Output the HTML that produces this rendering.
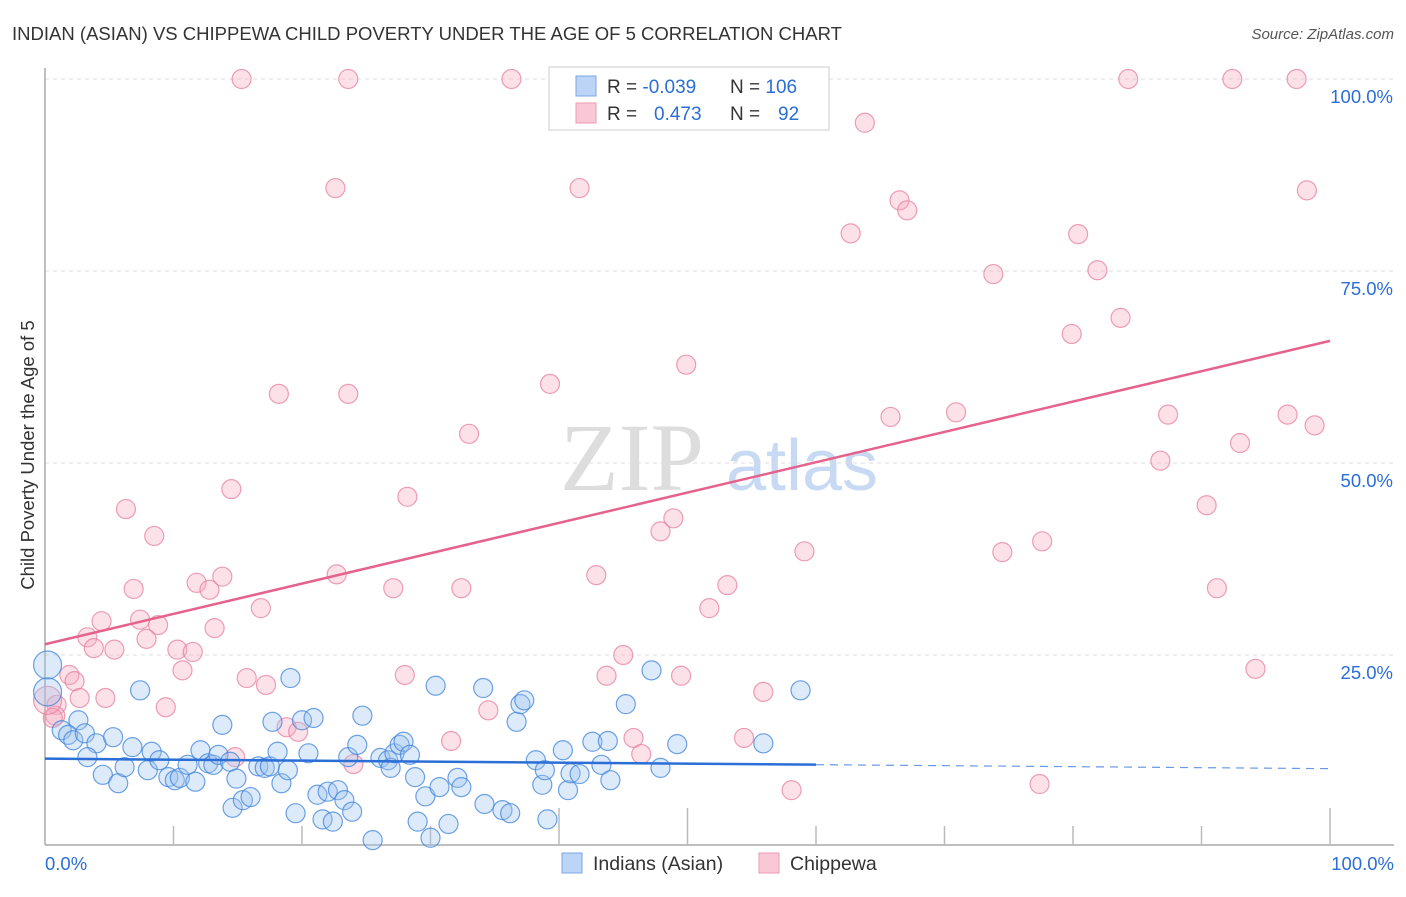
<!DOCTYPE html>
<html><head><meta charset="utf-8"><style>
html,body{margin:0;padding:0;background:#fff;}
body{width:1406px;height:892px;overflow:hidden;font-family:"Liberation Sans",sans-serif;}
</style></head><body>
<svg id="chart" width="1406" height="892" xmlns="http://www.w3.org/2000/svg">
<text x="12" y="40" font-size="18" fill="#333" textLength="830" lengthAdjust="spacingAndGlyphs">INDIAN (ASIAN) VS CHIPPEWA CHILD POVERTY UNDER THE AGE OF 5 CORRELATION CHART</text>
<text x="1394" y="39" font-size="15" fill="#555" font-style="italic" text-anchor="end">Source: ZipAtlas.com</text>
<g>
<text x="632" y="490" font-size="96" fill="#ddd" font-family="Liberation Serif,serif" text-anchor="middle">ZIP</text>
<text x="802" y="490" font-size="72" fill="#c8daf3" text-anchor="middle">atlas</text>
</g>
<g id="grid"></g>
<g id="axes"></g>
<g id="points"></g>
<g id="lines"></g>
<text transform="translate(34,455) rotate(-90)" font-size="18.5" fill="#333" text-anchor="middle">Child Poverty Under the Age of 5</text>
<g>
<rect x="549" y="67" width="280" height="63" fill="#fff" stroke="#ccc"/>
<rect x="576" y="76" width="20" height="20" fill="#bcd4f5" stroke="#7aa7e6"/>
<rect x="576" y="103" width="20" height="20" fill="#f9c8d6" stroke="#ec9ab2"/>
<text x="607" y="93" font-size="19" fill="#333">R = <tspan fill="#2a6ed6">-0.039</tspan><tspan x="730">N = </tspan><tspan fill="#2a6ed6">106</tspan></text>
<text x="607" y="120" font-size="19" fill="#333">R = <tspan x="654" fill="#2a6ed6">0.473</tspan><tspan x="730">N = </tspan><tspan x="778" fill="#2a6ed6">92</tspan></text>
</g>
<g>
<rect x="562" y="853" width="20" height="20" fill="#bcd4f5" stroke="#7aa7e6"/>
<text x="593" y="870" font-size="19.5" fill="#333">Indians (Asian)</text>
<rect x="759" y="853" width="20" height="20" fill="#f9c8d6" stroke="#ec9ab2"/>
<text x="790" y="870" font-size="19.5" fill="#333">Chippewa</text>
</g>
</svg>
<script>
const yTicks=[25,50,75,100];
const yTickLabels=["25.0%","50.0%","75.0%","100.0%"];
const xTickLabels=["0.0%","100.0%"];
const blueX=[0.2,0.2,2.6,1.3,1.8,2.2,3.1,4.0,5.3,3.3,4.5,5.7,6.2,6.8,7.4,8.0,8.3,8.9,9.6,10.1,10.5,11.1,11.7,12.1,12.7,13.1,13.5,13.8,14.4,14.9,14.6,15.4,16.0,16.6,17.1,17.5,17.7,18.1,18.4,18.9,19.1,19.5,20.0,20.5,20.9,21.2,21.6,22.0,22.4,22.8,23.3,23.6,23.9,24.3,24.7,25.5,26.1,26.7,26.9,27.2,27.6,27.9,28.4,28.8,29.0,29.6,30.0,30.4,30.7,31.4,32.1,32.4,34.1,34.2,35.6,36.2,36.7,37.0,37.3,38.2,38.7,38.9,39.1,40.3,40.7,40.9,41.6,42.6,43.3,43.8,44.0,45.2,47.2,47.9,49.2,55.9,58.8];
const blueY=[23.7,20.2,16.5,15.2,14.6,13.9,14.8,13.5,14.3,11.7,9.4,8.3,10.4,13.0,20.4,10.0,12.4,11.3,9.1,8.7,9.0,10.7,8.5,12.6,10.9,10.7,12.0,15.9,11.1,8.9,5.1,6.1,6.5,10.5,10.3,10.5,16.3,12.4,8.3,10.0,22.0,4.4,16.5,12.2,16.8,6.8,3.6,7.2,3.3,7.4,6.1,11.7,4.6,13.3,17.1,0.9,11.6,11.3,10.3,12.2,13.3,13.7,12.0,9.1,3.3,6.6,1.2,21.0,7.8,3.0,9.0,7.8,20.7,5.6,4.8,4.4,16.3,18.6,19.1,11.3,8.1,10.0,3.6,12.6,7.4,9.6,9.5,13.7,10.7,13.8,8.7,18.6,23.0,10.3,13.4,13.5,20.4];
const pinkX=[15.3,23.6,36.3,84.3,92.4,97.4,63.8,22.6,41.6,98.2,66.5,67.1,62.7,80.4,73.8,81.9,83.7,79.9,49.9,18.2,23.6,39.3,65.8,70.9,87.4,96.7,98.8,33.0,93.0,86.8,14.5,28.2,6.3,90.4,8.5,48.9,47.9,59.1,77.6,74.5,22.7,42.9,6.9,11.8,12.8,13.8,27.1,32.4,53.1,91.2,16.8,51.7,4.4,7.4,8.8,13.2,3.3,7.9,3.8,5.4,10.3,11.5,45.0,94.2,10.7,1.9,2.3,15.7,17.2,28.0,43.7,49.5,2.7,4.7,9.4,34.5,55.9,0.9,0.8,0.6,18.8,19.7,31.6,45.8,54.4,46.4,14.8,24.0,58.1,77.4,0.2];
const pinkY=[100,100,100,100,100,100,94.3,85.8,85.8,85.5,84.2,82.9,79.9,79.8,74.6,75.1,68.9,66.8,62.8,59.0,59.0,60.3,56.0,56.6,56.3,56.3,54.9,53.8,52.6,50.3,46.6,45.6,44.0,44.5,40.5,42.8,41.1,38.5,39.8,38.4,35.5,35.4,33.6,34.4,33.5,35.2,33.7,33.7,34.1,33.7,31.1,31.1,29.4,29.6,28.9,28.5,27.3,27.1,25.9,25.7,25.7,25.4,25.0,23.2,23.0,22.4,21.6,22.0,21.1,22.4,22.3,22.3,19.4,19.4,18.2,17.8,20.2,18.5,17.1,16.8,15.6,15.0,13.8,14.2,14.2,12.1,11.7,10.8,7.4,8.2,19.1];
const blueTrend=[11.5,10.2];
const pinkTrend=[26.4,65.9];
const blueSolidEnd=60;

const NS="http://www.w3.org/2000/svg";
const X0=45,X1=1330,Y0=847,Y100=79;
function sx(v){return X0+(X1-X0)*v/100;}
function sy(v){return Y0-(Y0-Y100)*v/100;}
function mk(tag,attrs,parent){const e=document.createElementNS(NS,tag);for(const k in attrs)e.setAttribute(k,attrs[k]);parent.appendChild(e);return e;}
const grid=document.getElementById('grid'),axes=document.getElementById('axes'),pts=document.getElementById('points'),lines=document.getElementById('lines');
yTicks.forEach((t,i)=>{
  const g=mk('line',{x1:45,x2:1394,y1:sy(t),y2:sy(t),stroke:'#ddd','stroke-dasharray':'4,4'},grid);
  
  
  const l=mk('text',{x:1393,y:sy(t)+24,'font-size':18.5,fill:'#2a6ed6','text-anchor':'end'},axes);
  l.textContent=yTickLabels[i];
  
  
});
const ya=mk('line',{x1:45,x2:45,y1:68,y2:845,stroke:'#aaa','stroke-width':1.5},axes);


const xa=mk('line',{x1:45,x2:1394,y1:845,y2:845,stroke:'#aaa','stroke-width':1.5},axes);


for(let i=1;i<=10;i++){
  const tk=mk('line',{x1:sx(i*10),x2:sx(i*10),y1:(i%5==0||i==4)?808:826,y2:845,stroke:'#bbb','stroke-width':1.5},axes);
  
  
}
[[0,'start',45],[100,'end',1394]].forEach((d,i)=>{
  const t=mk('text',{x:d[2],y:870,'font-size':18.5,fill:'#2a6ed6','text-anchor':d[1]},axes);
  t.textContent=xTickLabels[i];
  
  
});
function drawSeries(xs,ys,fill,stroke,name){
  xs.forEach((x,i)=>{
    let r=9.5;
    if(x<0.5&&ys[i]>18)r=14;
    const c=mk('circle',{cx:sx(x),cy:sy(ys[i]),r:r,fill:fill,'fill-opacity':0.35,stroke:stroke,'stroke-opacity':0.75,'stroke-width':1.2},pts);
    
    
  });
}
drawSeries(pinkX,pinkY,'#f5a9bf','#e77f9f','chippewa-point');
drawSeries(blueX,blueY,'#9fc2ef','#3d83dc','indians-point');
function trendAt(tr,x){return tr[0]+(tr[1]-tr[0])*x/100;}
const bl=mk('line',{x1:sx(0),y1:sy(blueTrend[0]),x2:sx(blueSolidEnd),y2:sy(trendAt(blueTrend,blueSolidEnd)),stroke:'#2a6ed6','stroke-width':2.5},lines);


const bd=mk('line',{x1:sx(blueSolidEnd),y1:sy(trendAt(blueTrend,blueSolidEnd)),x2:sx(100),y2:sy(blueTrend[1]),stroke:'#2a6ed6','stroke-width':1.2,'stroke-dasharray':'8,6','stroke-opacity':0.7},lines);


const pl=mk('line',{x1:sx(0),y1:sy(pinkTrend[0]),x2:sx(100),y2:sy(pinkTrend[1]),stroke:'#e5628c','stroke-width':2.5},lines);


</script>
</body></html>
